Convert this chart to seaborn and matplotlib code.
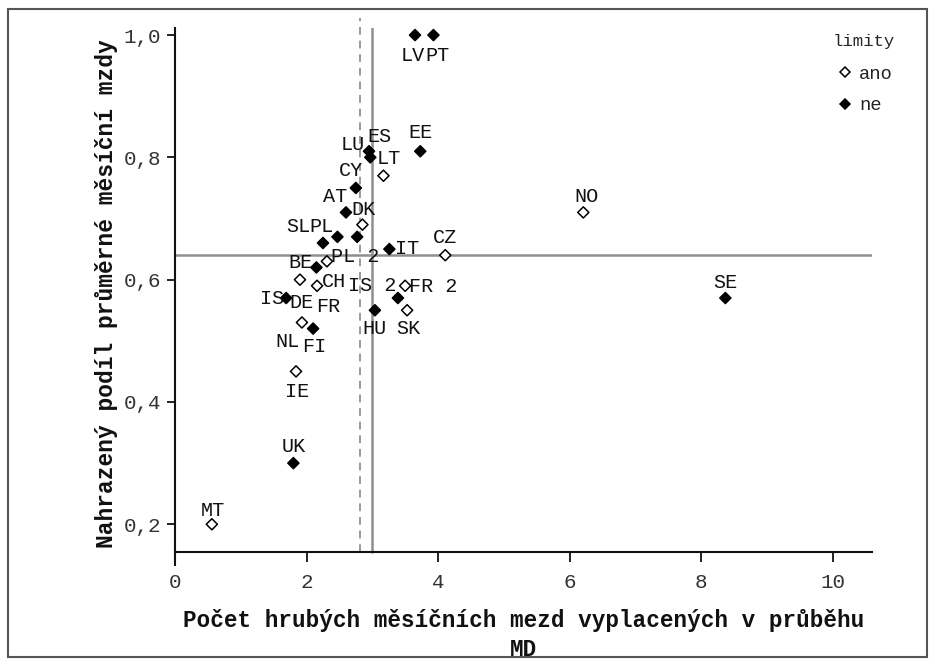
import matplotlib
matplotlib.use("Agg")
import matplotlib.pyplot as plt
from matplotlib.lines import Line2D
from matplotlib.patches import Rectangle
import seaborn as sns
import pandas as pd

# Country codes, values and whether the benefit is capped ("limity")
zeme = ["LV", "PT", "LU", "ES", "EE", "LT", "CY", "AT", "DK", "SL",
        "PL", "PL 2", "IT", "CZ", "BE", "CH", "DE", "FR", "IS", "NL",
        "FI", "HU", "SK", "IS 2", "FR 2", "IE", "UK", "MT", "NO", "SE"]
pocet_mezd = [3.65, 3.93, 2.95, 2.97, 3.73, 3.17, 2.75, 2.60, 2.85, 2.25,
              2.47, 2.77, 3.26, 4.11, 2.15, 2.31, 1.90, 2.16, 1.69, 1.93,
              2.10, 3.04, 3.53, 3.39, 3.50, 1.84, 1.80, 0.56, 6.21, 8.37]
podil_mzdy = [1.00, 1.00, 0.81, 0.80, 0.81, 0.77, 0.75, 0.71, 0.69, 0.66,
              0.67, 0.67, 0.65, 0.64, 0.62, 0.63, 0.60, 0.59, 0.57, 0.53,
              0.52, 0.55, 0.55, 0.57, 0.59, 0.45, 0.30, 0.20, 0.71, 0.57]
limity = ["ne", "ne", "ne", "ne", "ne", "ano", "ne", "ne", "ano", "ne",
          "ne", "ne", "ne", "ano", "ne", "ano", "ano", "ano", "ne", "ano",
          "ne", "ne", "ano", "ne", "ano", "ano", "ne", "ano", "ano", "ne"]

# Label placement relative to each point (pixels, +y is up)
label_dx = [-2, 4, -16, 9, 0, 5, -5, -11, 1, -25,
            -16, -2, 18, 0, -16, 7, 2, 11, -14, -14,
            1, 0, 1, -26, 28, 1, 0, 1, 3, 0]
label_dy = [-20, -20, 7, 21, 19, 17, 17, 16, 15, 16,
            10, -20, 1, 18, 5, -20, -23, -21, 0, -19,
            -18, -18, -18, 13, -1, -20, 17, 14, 16, 16]

# Reference lines
prumer_podil = 0.64
prumer_pocet = 3.0
median_pocet = 2.82

x_ticks = [0, 2, 4, 6, 8, 10]
x_tick_labels = ["0", "2", "4", "6", "8", "10"]
y_ticks = [0.2, 0.4, 0.6, 0.8, 1.0]
y_tick_labels = ["0,2", "0,4", "0,6", "0,8", "1,0"]

df = pd.DataFrame({"zeme": zeme, "pocet": pocet_mezd,
                   "podil": podil_mzdy, "limity": limity})

sns.set_theme(style="ticks")
plt.rcParams["font.family"] = ["Liberation Mono", "DejaVu Sans Mono"]

fig = plt.figure(figsize=(9.35, 6.65), dpi=100)
ax = fig.add_axes([0.1872, 0.150, 0.7454, 0.8083])

y_lo, y_hi = 0.133, 1.012
spine_y = 0.1545

ax.axhline(prumer_podil, color="#8f8f8f", lw=1.8, zorder=1)
ax.axvline(prumer_pocet, ymin=(spine_y - y_lo) / (y_hi - y_lo), ymax=1.0,
           color="#8f8f8f", lw=1.8, zorder=1)
ax.axvline(median_pocet, ymin=(spine_y - y_lo) / (y_hi - y_lo), ymax=1.018,
           color="#9a9a9a", lw=1.4, ls=(0, (4, 3)), zorder=1, clip_on=False)

palette = {"ano": "white", "ne": "black"}
sns.scatterplot(data=df, x="pocet", y="podil", hue="limity",
                hue_order=["ano", "ne"], palette=palette, marker="D", s=32,
                edgecolor="black", linewidth=1.1, legend=False, ax=ax, zorder=3)

for name, xv, yv, dx, dy in zip(zeme, pocet_mezd, podil_mzdy, label_dx, label_dy):
    ax.annotate(name, (xv, yv), xytext=(dx, dy), textcoords="offset pixels",
                ha="center", va="center", fontsize=14.5, color="#111111",
                zorder=4)

ax.set_xlim(0, 10.6)
ax.set_ylim(y_lo, y_hi)
ax.set_xticks(x_ticks)
ax.set_xticklabels(x_tick_labels)
ax.set_yticks(y_ticks)
ax.set_yticklabels(y_tick_labels)

for side in ["top", "right"]:
    ax.spines[side].set_visible(False)
ax.spines["bottom"].set_position(("data", spine_y))
for side in ["left", "bottom"]:
    ax.spines[side].set_linewidth(1.5)
    ax.spines[side].set_color("#111111")

ax.tick_params(axis="both", direction="out", width=1.3, color="#111111",
               labelsize=15, labelcolor="#333333")
ax.tick_params(axis="y", length=6, pad=4)
ax.tick_params(axis="x", length=7, pad=8)

ax.set_ylabel("Nahrazený podíl průměrné měsíční mzdy", fontsize=16.5,
              fontweight="bold", color="#111111")
ax.yaxis.set_label_coords(-0.082, 0.505)
ax.set_xlabel("Počet hrubých měsíčních mezd vyplacených v průběhu\nMD",
              fontsize=16.3, fontweight="bold", color="#111111",
              va="center", linespacing=1.3)
ax.xaxis.set_label_coords(0.5, -0.13)

handles = [Line2D([], [], ls="", marker="D", markersize=5.5,
                  markerfacecolor=palette[k], markeredgecolor="black",
                  markeredgewidth=1.1) for k in ["ano", "ne"]]
leg = ax.legend(handles, ["ano", "ne"], title="limity", loc="upper left",
                bbox_to_anchor=(0.873, 0.974), bbox_transform=fig.transFigure,
                frameon=False, fontsize=13.5, title_fontsize=12.5,
                handletextpad=0.25, handlelength=1.0, labelspacing=0.75,
                borderpad=0.4, alignment="center")
leg._legend_box.sep = 12
for t in leg.get_texts():
    t.set_color("#222222")

fig.patches.append(Rectangle((8 / 935, 8 / 665), 919 / 935, 648 / 665,
                             transform=fig.transFigure, fill=False,
                             edgecolor="#555555", lw=1.5))

fig.savefig("out.png", dpi=100)
